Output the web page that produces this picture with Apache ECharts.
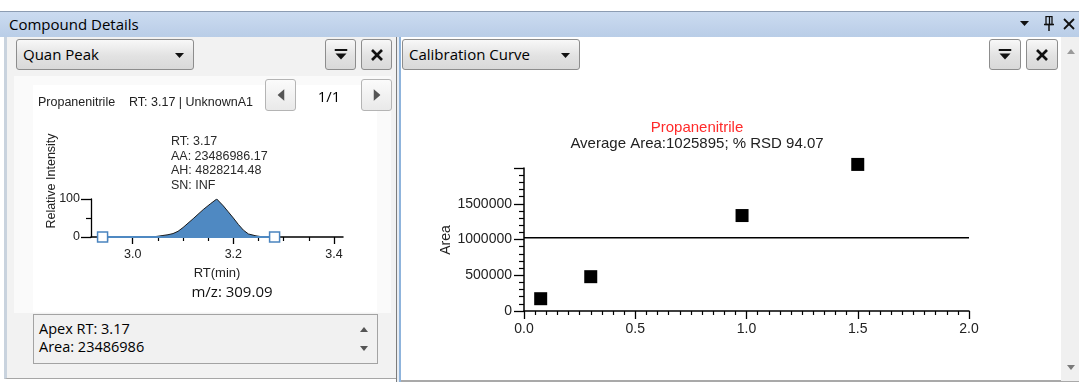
<!DOCTYPE html>
<html>
<head>
<meta charset="utf-8">
<title>Compound Details</title>
<script src="https://cdn.jsdelivr.net/npm/echarts@6/dist/echarts.min.js"></script>
<style>
  html, body { margin: 0; padding: 0; }
  body {
    width: 1079px; height: 383px; overflow: hidden; position: relative;
    background: #ffffff;
    font-family: "Open Sans", "Noto Sans", sans-serif; color: #000;
  }
  .abs { position: absolute; box-sizing: border-box; }
  .titlebar {
    left: 0; top: 11px; width: 1079px; height: 26px;
    border-top: 1px solid #8c9cb2;
    background: linear-gradient(#cbdbf0, #b9cde7);
  }
  .titlebar .caption { position: absolute; left: 9px; top: 0; line-height: 25px; font-size: 15px; }
  .btn {
    border: 1px solid #8d8d8d; border-radius: 3px;
    background: linear-gradient(#f8f8f8, #e2e2e2 55%, #d9d9d9);
  }
  .combo { font-size: 15px; line-height: 29px; padding-left: 6px; }
  .combo .arrow { position: absolute; right: 9px; top: 13px; }
  .icon { position: absolute; left: 50%; top: 50%; transform: translate(-50%, -50%); }
  .nav { border: 1px solid #b4b4b4; border-radius: 3px; background: linear-gradient(#fbfbfb, #e9e9e9); }
</style>
</head>
<body>

<!-- window caption -->
<div class="abs titlebar">
  <span class="caption">Compound Details</span>
  <svg class="abs" style="left:1020px;top:9px" width="9" height="6"><polygon points="0,0 9,0 4.5,5" fill="#111"/></svg>
  <svg class="abs" style="left:1044px;top:4px" width="10" height="15">
    <rect x="2" y="0.5" width="6" height="8" fill="none" stroke="#111" stroke-width="1.3"/>
    <line x1="5.5" y1="1" x2="5.5" y2="8" stroke="#111" stroke-width="1.3"/>
    <line x1="0" y1="8.5" x2="10" y2="8.5" stroke="#111" stroke-width="1.5"/>
    <line x1="5" y1="9" x2="5" y2="15" stroke="#111" stroke-width="1.5"/>
  </svg>
  <svg class="abs" style="left:1063px;top:6px" width="12" height="12">
    <line x1="1" y1="1" x2="11" y2="11" stroke="#111" stroke-width="1.8"/>
    <line x1="11" y1="1" x2="1" y2="11" stroke="#111" stroke-width="1.8"/>
  </svg>
</div>

<!-- left pane: Quan Peak -->
<div class="abs" style="left:4px;top:37px;width:393px;height:342px;background:#f2f2f2;border-left:3px solid #c9d3de;border-bottom:1px solid #a6a6a6"></div>
<div class="abs" style="left:14px;top:76px;width:377px;height:237px;background:#fafafa"></div>
<div class="abs btn combo" style="left:16px;top:39px;width:178px;height:31px">Quan Peak
  <svg class="arrow" width="9" height="5"><polygon points="0,0 9,0 4.5,5" fill="#111"/></svg>
</div>
<div class="abs btn" style="left:325px;top:39px;width:31px;height:31px">
  <svg class="icon" width="13" height="12"><rect x="0" y="0" width="13" height="2" fill="#111"/><polygon points="1,4.5 12,4.5 6.5,10.5" fill="#111"/></svg>
</div>
<div class="abs btn" style="left:361px;top:39px;width:31px;height:31px">
  <svg class="icon" width="12" height="12"><line x1="1" y1="1" x2="11" y2="11" stroke="#111" stroke-width="2.6"/><line x1="11" y1="1" x2="1" y2="11" stroke="#111" stroke-width="2.6"/></svg>
</div>

<div id="peakChart" class="abs" style="left:33px;top:85px;width:344px;height:227px;background:#fff"></div>

<div class="abs nav" style="left:265px;top:79px;width:31px;height:32px">
  <svg class="icon" width="7" height="12"><polygon points="7,0 7,12 0,6" fill="#555"/></svg>
</div>
<div class="abs" style="left:300px;top:84px;width:58px;line-height:24px;text-align:center;font-size:15px">1/1</div>
<div class="abs nav" style="left:361px;top:79px;width:31px;height:32px">
  <svg class="icon" width="7" height="12"><polygon points="0,0 0,12 7,6" fill="#555"/></svg>
</div>

<div class="abs" style="left:33px;top:314px;width:345px;height:50px;background:#f1f1f1;border:1px solid #a3a3a3;font-size:14.5px;line-height:18px;padding:5px 0 0 5px">
  <div>Apex RT: 3.17</div>
  <div>Area: 23486986</div>
  <svg class="abs" style="left:326px;top:12px" width="8" height="5"><polygon points="0,5 8,5 4,0" fill="#555"/></svg>
  <svg class="abs" style="left:326px;top:31px" width="8" height="5"><polygon points="0,0 8,0 4,5" fill="#555"/></svg>
</div>

<!-- splitter -->
<div class="abs" style="left:396px;top:37px;width:1px;height:345px;background:#7c7c7c"></div>
<div class="abs" style="left:397px;top:37px;width:2px;height:345px;background:#e8edf3"></div>
<div class="abs" style="left:399px;top:37px;width:2px;height:345px;background:#8fb4dc"></div>

<!-- right pane: Calibration Curve -->
<div class="abs" style="left:401px;top:37px;width:678px;height:345px;background:#fff;border-bottom:2px solid #a9a9a9"></div>
<div class="abs" style="left:1061px;top:37px;width:18px;height:344px;background:#f0f0f0"></div>
<svg class="abs" style="left:1067px;top:49px" width="8" height="5"><polygon points="0,5 8,5 4,0" fill="#9a9a9a"/></svg>
<svg class="abs" style="left:1067px;top:365px" width="8" height="5"><polygon points="0,0 8,0 4,5" fill="#7a7a7a"/></svg>
<div class="abs btn combo" style="left:402px;top:39px;width:178px;height:31px">Calibration Curve
  <svg class="arrow" width="9" height="5"><polygon points="0,0 9,0 4.5,5" fill="#111"/></svg>
</div>
<div class="abs btn" style="left:989px;top:39px;width:32px;height:31px">
  <svg class="icon" width="13" height="12"><rect x="0" y="0" width="13" height="2" fill="#111"/><polygon points="1,4.5 12,4.5 6.5,10.5" fill="#111"/></svg>
</div>
<div class="abs btn" style="left:1026px;top:39px;width:32px;height:31px">
  <svg class="icon" width="12" height="12"><line x1="1" y1="1" x2="11" y2="11" stroke="#111" stroke-width="2.6"/><line x1="11" y1="1" x2="1" y2="11" stroke="#111" stroke-width="2.6"/></svg>
</div>

<div id="calChart" class="abs" style="left:401px;top:77px;width:659px;height:304px"></div>

<script>
// ---- Quan peak (extracted ion chromatogram, relative intensity) ----
const compoundName = 'Propanenitrile';
const peakRT =        [3.038, 3.05, 3.06, 3.07, 3.08, 3.09, 3.10, 3.12, 3.14, 3.155, 3.167, 3.18, 3.19, 3.20, 3.21, 3.22, 3.23, 3.245, 3.26];
const peakIntensity = [0,     2,    4,    6,    9,    15,   25,   48,   72,   88,    100,   82,   66,   50,   33,   18,   8,    3,     0];
const peakBounds = [2.940, 3.282];          // integration start / end
const rtMajorTicks = [3.0, 3.2, 3.4];
const rtMinorTicks = [2.95, 3.05, 3.1, 3.15, 3.25, 3.3, 3.35];
const intensityTicks = [0, 100];
const peakInfo = ['RT: 3.17', 'AA: 23486986.17', 'AH: 4828214.48', 'SN: INF'];
const peakHeader = 'Propanenitrile    RT: 3.17 | UnknownA1';
const massLabel = 'm/z: 309.09';

// ---- Calibration curve ----
const calAmount = [0.075, 0.30, 0.98, 1.50];
const calArea   = [172000, 480000, 1335000, 2050000];
const averageArea = 1025895;
const rsdPercent = 94.07;
const amountTicks = [0.0, 0.5, 1.0, 1.5, 2.0];
const areaTicks = [0, 500000, 1000000, 1500000];

const FONT = '"Liberation Sans", Arial, sans-serif';

const peakChart = echarts.init(document.getElementById('peakChart'), null, { renderer: 'canvas' });
peakChart.setOption({
  animation: false,
  grid: { left: 58, right: 34, top: 114, bottom: 75, containLabel: false },
  xAxis: [{
    type: 'value', min: 2.917, max: 3.418, position: 'bottom',
    name: 'RT(min)', nameLocation: 'middle', nameGap: 30,
    nameTextStyle: { fontFamily: FONT, fontSize: 13, color: '#222' },
    axisLine: { show: true, onZero: false, lineStyle: { color: '#000', width: 1.5 } },
    axisTick: { show: true, customValues: rtMajorTicks, length: 7, lineStyle: { color: '#000', width: 1.3 } },
    axisLabel: { customValues: rtMajorTicks, formatter: v => v.toFixed(1), fontFamily: FONT, fontSize: 12.5, color: '#222', margin: 11 },
    splitLine: { show: false }
  }, {
    type: 'value', min: 2.917, max: 3.418, position: 'bottom',
    axisLine: { show: false },
    axisTick: { show: true, customValues: rtMinorTicks, length: 4, lineStyle: { color: '#000', width: 1.2 } },
    axisLabel: { show: false },
    splitLine: { show: false }
  }],
  yAxis: {
    type: 'value', min: 0, max: 100, interval: 100,
    axisLine: { show: true, onZero: false, lineStyle: { color: '#000', width: 1.3 } },
    axisTick: { show: true, length: 10, lineStyle: { color: '#000', width: 1.3 } },
    minorTick: { show: true, splitNumber: 2, length: 5, lineStyle: { color: '#000', width: 1.2 } },
    axisLabel: { customValues: intensityTicks, fontFamily: FONT, fontSize: 12.5, color: '#222', margin: 11 },
    splitLine: { show: false }
  },
  graphic: [
    { type: 'text', x: 5, y: 18, style: { text: peakHeader, font: '12.5px ' + FONT, fill: '#222', textVerticalAlign: 'middle' } },
    { type: 'text', x: 138, y: 49, style: { text: peakInfo.join('\n'), font: '12.5px ' + FONT, fill: '#2a2a2a', lineHeight: 14.7, textVerticalAlign: 'top' } },
    { type: 'text', x: 19, y: 96, rotation: Math.PI / 2, style: { text: 'Relative Intensity', font: '12.5px ' + FONT, fill: '#222', textAlign: 'center', textVerticalAlign: 'middle' } },
    { type: 'text', x: 199, y: 208, style: { text: massLabel, font: '15px "Open Sans", sans-serif', fill: '#111', textAlign: 'center', textVerticalAlign: 'middle' } }
  ],
  series: [{
    type: 'line',
    data: peakRT.map((t, i) => [t, peakIntensity[i]]),
    symbol: 'none',
    lineStyle: { color: '#1c1c1c', width: 1 },
    areaStyle: { color: '#4f89c2', opacity: 1, origin: 'start' },
    z: 3
  }, {
    type: 'line',
    data: peakBounds.map(t => [t, 0]),
    symbol: 'rect', symbolSize: 10,
    showAllSymbol: true,
    lineStyle: { color: '#4f89c2', width: 2 },
    itemStyle: { color: '#ffffff', borderColor: '#4a84bf', borderWidth: 1.5, opacity: 1 },
    z: 4
  }]
});

const calChart = echarts.init(document.getElementById('calChart'), null, { renderer: 'canvas' });
calChart.setOption({
  animation: false,
  grid: { left: 123, right: 91, top: 91, bottom: 70, containLabel: false },
  xAxis: {
    type: 'value', min: 0, max: 2, interval: 0.5,
    axisLine: { show: true, onZero: false, lineStyle: { color: '#000', width: 1.5 } },
    axisTick: { show: true, length: 8, lineStyle: { color: '#000', width: 1.3 } },
    minorTick: { show: true, splitNumber: 10, length: 4, lineStyle: { color: '#000', width: 1.2 } },
    axisLabel: { formatter: v => v.toFixed(1), fontFamily: FONT, fontSize: 14, color: '#222', margin: 11 },
    splitLine: { show: false }, minorSplitLine: { show: false }
  },
  yAxis: {
    type: 'value', min: 0, max: 2000000, interval: 500000,
    axisLine: { show: true, onZero: false, lineStyle: { color: '#000', width: 1.5 } },
    axisTick: { show: true, length: 10, lineStyle: { color: '#000', width: 1.3 } },
    minorTick: { show: true, splitNumber: 5, length: 5, lineStyle: { color: '#000', width: 1.2 } },
    axisLabel: { customValues: areaTicks, formatter: v => String(v), fontFamily: FONT, fontSize: 14, color: '#222', margin: 12 },
    splitLine: { show: false }, minorSplitLine: { show: false }
  },
  graphic: [
    { type: 'text', x: 296, y: 51, style: { text: compoundName, font: '15px ' + FONT, fill: '#ff2a2a', textAlign: 'center', textVerticalAlign: 'middle' } },
    { type: 'text', x: 296, y: 67, style: { text: 'Average Area:' + averageArea + '; % RSD ' + rsdPercent.toFixed(2), font: '15px ' + FONT, fill: '#222', textAlign: 'center', textVerticalAlign: 'middle' } },
    { type: 'text', x: 45, y: 163, rotation: Math.PI / 2, style: { text: 'Area', font: '14px ' + FONT, fill: '#222', textAlign: 'center', textVerticalAlign: 'middle' } }
  ],
  series: [{
    type: 'line',
    data: [[0, averageArea], [2, averageArea]],
    symbol: 'none',
    lineStyle: { color: '#000', width: 1.5 },
    z: 2
  }, {
    type: 'scatter',
    data: calAmount.map((x, i) => [x, calArea[i]]),
    symbol: 'rect', symbolSize: 13,
    itemStyle: { color: '#000', opacity: 1 },
    clip: false,
    z: 3
  }]
});
</script>
</body>
</html>
